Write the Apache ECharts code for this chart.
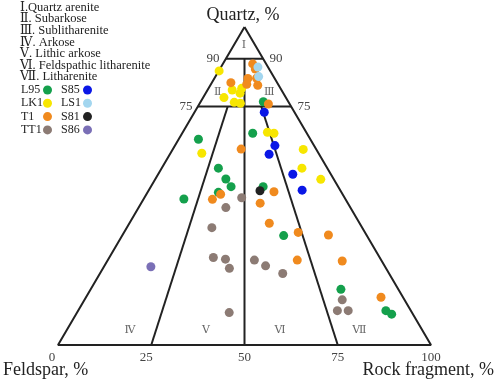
<!DOCTYPE html>
<html>
<head>
<meta charset="utf-8">
<script src="https://cdn.jsdelivr.net/npm/echarts@6/dist/echarts.min.js"></script>
<style>html,body{margin:0;padding:0;background:#fff}#c{width:498px;height:383px}</style>
</head>
<body>
<div id="c"></div>
<script>
// Compositions as [Quartz, Feldspar, Rock fragment] (%)
const L95 = [[76.5,6.7,16.8],[66.6,14.5,18.9],[64.7,30.0,5.3],[55.6,29.2,15.2],[52.2,28.9,18.9],[49.8,28.7,21.5],[49.8,20.1,30.1],[48.0,33.0,19.0],[45.9,43.3,10.8],[34.4,22.3,43.3],[17.5,15.4,67.1],[10.8,6.7,82.5],[9.7,5.7,84.6]];
const S85 = [[73.2,8.1,18.7],[62.7,10.5,26.8],[60.0,13.4,26.6],[53.7,10.2,36.1],[48.7,10.2,41.1]];
const LK1 = [[86.2,13.7,0.1],[80.7,10.4,8.9],[80.2,13.2,6.6],[79.2,11.6,9.2],[77.8,16.6,5.6],[76.3,14.6,9.1],[76.0,13.1,10.9],[66.9,10.4,22.7],[66.6,8.8,24.6],[60.3,31.3,8.4],[61.5,3.5,35.0],[55.6,6.8,37.6],[52.1,3.5,44.4]];
const LS1 = [[87.4,2.7,9.9],[84.4,4.0,11.6]];
const T1 = [[88.4,3.6,8.0],[86.8,3.7,9.5],[83.8,7.2,9.0],[83.9,4.8,11.3],[82.5,12.4,5.1],[82.0,8.4,9.6],[81.7,5.6,12.7],[75.8,5.7,18.5],[61.6,20.1,18.3],[48.2,18.0,33.8],[47.4,32.7,19.9],[45.8,35.7,18.5],[44.6,23.5,31.9],[38.3,24.2,37.5],[35.4,17.9,46.7],[34.6,10.2,55.2],[26.7,22.5,50.8],[26.4,10.6,63.0],[15.0,5.9,79.1]];
const S81 = [[48.5,21.6,29.9]];
const TT1 = [[46.3,27.6,26.1],[43.2,33.4,23.4],[36.9,40.3,22.8],[27.5,44.6,27.9],[27.0,41.6,31.4],[24.1,42.0,33.9],[26.7,34.0,39.3],[24.9,31.9,43.2],[22.5,28.5,49.0],[10.2,49.0,40.8],[14.2,16.7,69.1],[10.8,19.7,69.5],[10.8,16.8,72.4]];
const S86 = [[24.6,62.8,12.6]];

// Classification boundary segments, [Q,F,R] endpoints
const outline = [[100,0,0],[0,100,0],[0,0,100],[100,0,0]];
const boundaries = [
  [[90,10,0],[90,0,10]],
  [[75,25,0],[75,0,25]],
  [[90,5,5],[0,50,50]],
  [[75,17,8],[0,75,25]],
  [[75,8,17],[0,25,75]]
];
const baseTicks = [0,25,50,75,100];
const classNames = ['Ⅰ.Quartz arenite','Ⅱ. Subarkose','Ⅲ. Sublitharenite','Ⅳ. Arkose','Ⅴ. Lithic arkose','Ⅵ. Feldspathic litharenite','Ⅶ. Litharenite'];
const regionLabels = ['Ⅰ','Ⅱ','Ⅲ','Ⅳ','Ⅴ','Ⅵ','Ⅶ'];
const sideTicks = ['90','90','75','75'];

const colors = {L95:'#14a04c',S85:'#0a17e6',LK1:'#f7e600',LS1:'#a3d6ef',T1:'#f08a1e',S81:'#222222',TT1:'#8c7b74',S86:'#7a6fb6'};
const serif = '"Liberation Serif","DejaVu Serif","Noto Sans CJK SC",serif';

function toXY(p){ const s=p[0]+p[1]+p[2]; const q=p[0]/s*100, r=p[2]/s*100; return [r+q/2, q]; }

const scatterDefs = [['L95',L95],['S85',S85],['LK1',LK1],['TT1',TT1],['T1',T1],['LS1',LS1],['S81',S81],['S86',S86]];

const series = [];
series.push({type:'line',data:outline.map(toXY),symbol:'none',silent:true,lineStyle:{color:'#222',width:2},z:1});
boundaries.forEach(seg=>series.push({type:'line',data:seg.map(toXY),symbol:'none',silent:true,lineStyle:{color:'#222',width:2},z:1}));
scatterDefs.forEach(([n,d])=>series.push({name:n,type:'scatter',data:d.map(toXY),symbolSize:9,itemStyle:{color:colors[n],opacity:1},z:3}));

const graphic = [];
const classY = [8,19.7,31.3,43,54.6,66.2,77.8];
classNames.forEach((t,i)=>graphic.push({type:'text',left:20,top:classY[i]-7,style:{text:t,font:'12.5px '+serif,fill:'#222'}}));
const regPos = [[244,45],[217.7,91.7],[269.3,91.7],[130,330],[206,330],[280,330],[359.3,330]];
regionLabels.forEach((t,i)=>graphic.push({type:'text',x:regPos[i][0],y:regPos[i][1],style:{text:t,font:'11px '+serif,fill:'#666',align:'center',verticalAlign:'middle'}}));
const sidePos = [[213,59],[276,59],[186,107],[304,107]];
sideTicks.forEach((t,i)=>graphic.push({type:'text',x:sidePos[i][0],y:sidePos[i][1],style:{text:t,font:'13px '+serif,fill:'#444',align:'center',verticalAlign:'middle'}}));
graphic.push({type:'text',x:243,y:15,style:{text:'Quartz, %',font:'18px '+serif,fill:'#222',align:'center',verticalAlign:'middle'}});
graphic.push({type:'text',x:3,y:370,style:{text:'Feldspar, %',font:'18px '+serif,fill:'#222',align:'left',verticalAlign:'middle'}});
graphic.push({type:'text',x:494,y:370,style:{text:'Rock fragment, %',font:'18px '+serif,fill:'#222',align:'right',verticalAlign:'middle'}});

const legendBase = {orient:'vertical',icon:'circle',itemWidth:9,itemHeight:9,itemGap:1.3,align:'right',padding:0,
  formatter:'{n|{name}}',
  textStyle:{fontFamily:serif,fontSize:12,color:'#222',lineHeight:12,
    rich:{n:{fontFamily:serif,fontSize:12,color:'#222',width:17,align:'left',lineHeight:12}}},selectedMode:true};

const chart = echarts.init(document.getElementById('c'),null,{renderer:'canvas'});
chart.setOption({
  animation:false,
  backgroundColor:'#fff',
  grid:{left:58,top:27,width:373,height:318,containLabel:false},
  xAxis:{type:'value',min:0,max:100,interval:25,axisLine:{show:false},axisTick:{show:false},splitLine:{show:false},
    axisLabel:{margin:6,fontFamily:serif,fontSize:13,color:'#444',
      formatter:v=>v===0?'{a|0}':(v===25?'{b|25}':String(v)),
      rich:{a:{fontFamily:serif,fontSize:13,color:'#444',padding:[0,12,0,0]},b:{fontFamily:serif,fontSize:13,color:'#444',padding:[0,10,0,0]}}}},
  yAxis:{type:'value',min:0,max:100,show:false},
  legend:[
    Object.assign({},legendBase,{left:21,top:84,data:['L95','LK1','T1','TT1']}),
    Object.assign({},legendBase,{left:61,top:84,data:['S85','LS1','S81','S86']})
  ],
  graphic:graphic,
  series:series
});
</script>
</body>
</html>
